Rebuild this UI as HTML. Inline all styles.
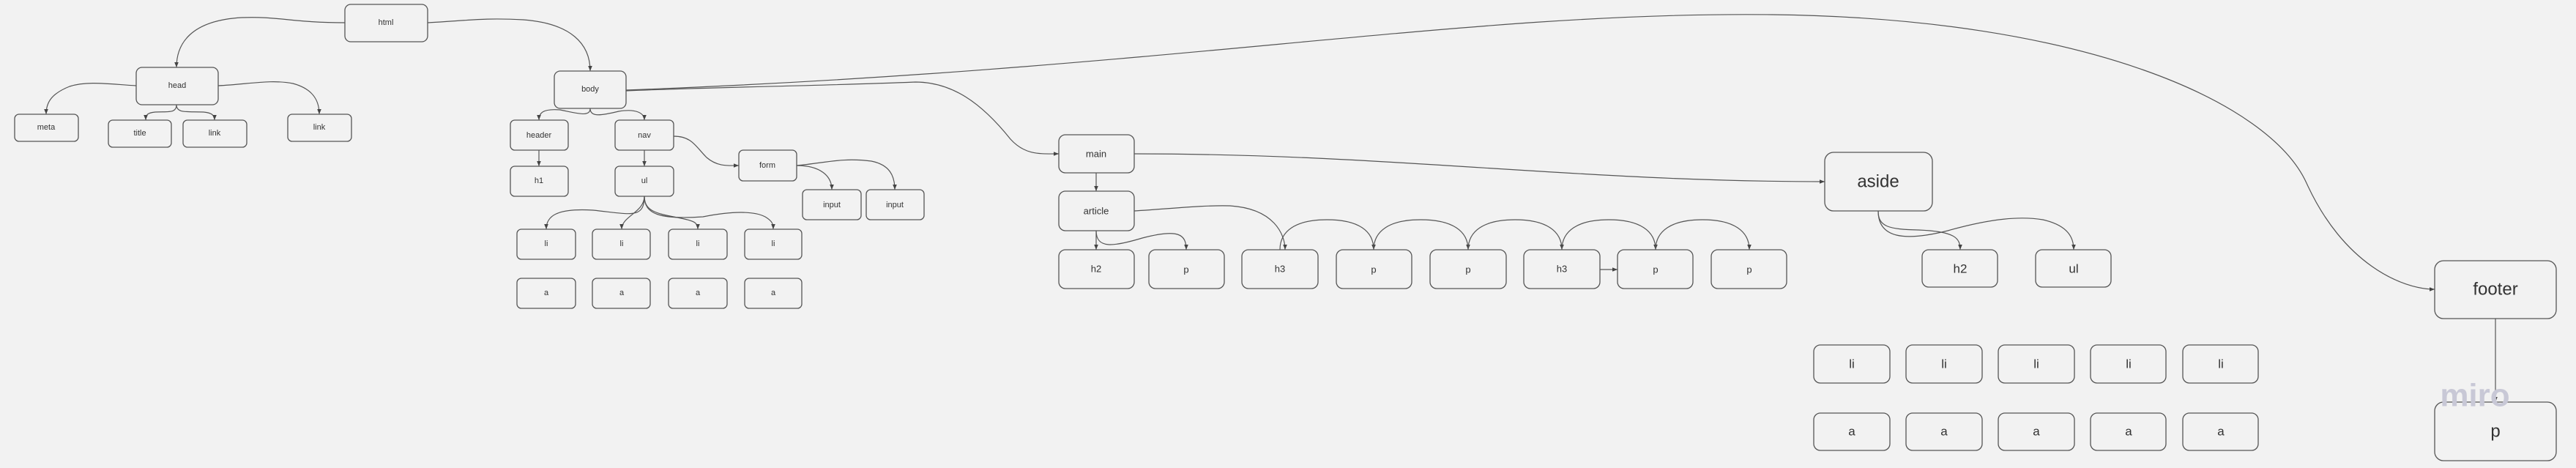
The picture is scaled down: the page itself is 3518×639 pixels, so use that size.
<!DOCTYPE html>
<html><head><meta charset="utf-8"><style>
html,body{margin:0;padding:0;background:#f2f2f2;}
svg{display:block;}
text{font-family:"Liberation Sans",sans-serif;fill:#333;text-anchor:middle;dominant-baseline:central;}
</style></head><body>
<svg width="3518" height="639" viewBox="0 0 3518 639" xmlns="http://www.w3.org/2000/svg">
<defs>
<marker id="ar" viewBox="0 0 10 10" refX="10" refY="5" markerWidth="7" markerHeight="7" orient="auto-start-reverse" markerUnits="userSpaceOnUse"><path d="M0,1 L10,5 L0,9 z" fill="#444"/></marker>
</defs>
<rect width="3518" height="639" fill="#f2f2f2"/>
<g fill="none" stroke="#555" stroke-width="1.2" marker-end="url(#ar)">
<path d="M471,31 C400,31 380,22 330,24 C260,28 241,60 241,92"/>
<path d="M584,31 C640,28 660,24 715,27 C780,32 806,60 806,97"/>
<path d="M186,117 C150,115 120,110 95,118 C70,128 63,140 63,156"/>
<path d="M298,117 C340,115 370,108 400,114 C430,122 436,140 436,156"/>
<path d="M241,143 C241,155 230,152 212,153 C200,154 199,158 199,164"/>
<path d="M241,143 C241,155 255,152 278,153 C290,154 293,158 293,164"/>
<path d="M806,148 C806,160 790,155 765,150 C740,148 736,155 736,164"/>
<path d="M806,148 C806,160 820,158 845,152 C870,148 880,155 880,164"/>
<path d="M736,205 L736,227"/>
<path d="M880,205 L880,227"/>
<path d="M920,186 C945,186 950,200 965,215 C980,228 995,226 1009,226"/>
<path d="M1088,226 C1120,226 1136,240 1136,259"/>
<path d="M1088,226 C1130,222 1150,215 1190,220 C1215,225 1222,240 1222,259"/>
<path d="M880,268 C880,300 860,292 810,287 C760,284 746,295 746,313"/>
<path d="M880,268 C880,290 849,295 849,313"/>
<path d="M880,268 C880,290 900,292 930,298 C950,302 953,305 953,313"/>
<path d="M880,268 C880,292 900,300 960,296 C1000,288 1030,288 1045,296 C1055,302 1056,306 1056,313"/>
<path d="M855,123 C1600,95 2000,15 2420,20 C2850,25 3100,140 3150,250 C3200,360 3280,395 3325,395"/>
<path d="M855,124 C1000,118 1100,118 1250,112 C1300,112 1340,140 1380,190 C1400,212 1420,210 1446,210"/>
<path d="M1497,236 L1497,261"/>
<path d="M1549,210 C1900,210 2150,248 2492,248"/>
<path d="M1497,315 L1497,341"/>
<path d="M1497,315 C1497,340 1520,337 1560,325 C1610,312 1620,320 1620,341"/>
<path d="M1549,288 C1600,285 1640,280 1680,281 C1740,285 1755,320 1755,341"/>
<path d="M1748,341 C1748,315 1770,300 1812,300 C1855,300 1876,315 1876,341"/>
<path d="M1876,341 C1876,315 1898,300 1940,300 C1983,300 2005,315 2005,341"/>
<path d="M2005,341 C2005,315 2027,300 2069,300 C2111,300 2133,315 2133,341"/>
<path d="M2133,341 C2133,315 2155,300 2197,300 C2239,300 2261,315 2261,341"/>
<path d="M2261,341 C2261,315 2283,300 2325,300 C2367,300 2389,315 2389,341"/>
<path d="M2185,368 L2209,368"/>
<path d="M2565,288 C2565,310 2580,313 2620,314 C2670,316 2677,325 2677,341"/>
<path d="M2565,288 C2565,325 2600,330 2660,315 C2720,298 2760,295 2790,300 C2825,308 2832,325 2832,341"/>
<path d="M3408,435 L3408,549"/>
</g>
<g fill="none" stroke="#555" stroke-width="1.3">
<rect x="471" y="6" width="113" height="51" rx="8"/>
<rect x="186" y="92" width="112" height="51" rx="8"/>
<rect x="20" y="156" width="87" height="37" rx="6"/>
<rect x="148" y="164" width="86" height="37" rx="6"/>
<rect x="250" y="164" width="87" height="37" rx="6"/>
<rect x="393" y="156" width="87" height="37" rx="6"/>
<rect x="757" y="97" width="98" height="51" rx="8"/>
<rect x="697" y="164" width="79" height="41" rx="6"/>
<rect x="840" y="164" width="80" height="41" rx="6"/>
<rect x="697" y="227" width="79" height="41" rx="6"/>
<rect x="840" y="227" width="80" height="41" rx="6"/>
<rect x="1009" y="205" width="79" height="42" rx="6"/>
<rect x="1096" y="259" width="80" height="41" rx="6"/>
<rect x="1183" y="259" width="79" height="41" rx="6"/>
<rect x="706" y="313" width="80" height="41" rx="6"/>
<rect x="809" y="313" width="79" height="41" rx="6"/>
<rect x="913" y="313" width="80" height="41" rx="6"/>
<rect x="1017" y="313" width="78" height="41" rx="6"/>
<rect x="706" y="380" width="80" height="41" rx="6"/>
<rect x="809" y="380" width="79" height="41" rx="6"/>
<rect x="913" y="380" width="80" height="41" rx="6"/>
<rect x="1017" y="380" width="78" height="41" rx="6"/>
<rect x="1446" y="184" width="103" height="52" rx="9"/>
<rect x="1446" y="261" width="103" height="54" rx="9"/>
<rect x="1446" y="341" width="103" height="53" rx="9"/>
<rect x="1569" y="341" width="103" height="53" rx="9"/>
<rect x="1696" y="341" width="104" height="53" rx="9"/>
<rect x="1825" y="341" width="103" height="53" rx="9"/>
<rect x="1953" y="341" width="104" height="53" rx="9"/>
<rect x="2081" y="341" width="104" height="53" rx="9"/>
<rect x="2209" y="341" width="103" height="53" rx="9"/>
<rect x="2337" y="341" width="103" height="53" rx="9"/>
<rect x="2492" y="208" width="147" height="80" rx="12"/>
<rect x="2625" y="341" width="103" height="51" rx="9"/>
<rect x="2780" y="341" width="103" height="51" rx="9"/>
<rect x="3325" y="356" width="166" height="79" rx="12"/>
<rect x="3325" y="549" width="166" height="80" rx="12"/>
<rect x="2477" y="471" width="104" height="52" rx="9"/>
<rect x="2603" y="471" width="104" height="52" rx="9"/>
<rect x="2729" y="471" width="104" height="52" rx="9"/>
<rect x="2855" y="471" width="103" height="52" rx="9"/>
<rect x="2981" y="471" width="103" height="52" rx="9"/>
<rect x="2477" y="564" width="104" height="51" rx="9"/>
<rect x="2603" y="564" width="104" height="51" rx="9"/>
<rect x="2729" y="564" width="104" height="51" rx="9"/>
<rect x="2855" y="564" width="103" height="51" rx="9"/>
<rect x="2981" y="564" width="103" height="51" rx="9"/>
</g>
<g font-size="11">
<text x="527" y="31">html</text>
<text x="242" y="117">head</text>
<text x="63" y="174">meta</text>
<text x="191" y="182">title</text>
<text x="293" y="182">link</text>
<text x="436" y="174">link</text>
<text x="806" y="122">body</text>
<text x="736" y="185">header</text>
<text x="880" y="185">nav</text>
<text x="736" y="247">h1</text>
<text x="880" y="247">ul</text>
<text x="1048" y="226">form</text>
<text x="1136" y="280">input</text>
<text x="1222" y="280">input</text>
<text x="746" y="333">li</text><text x="849" y="333">li</text><text x="953" y="333">li</text><text x="1056" y="333">li</text>
<text x="746" y="400">a</text><text x="849" y="400">a</text><text x="953" y="400">a</text><text x="1056" y="400">a</text>
</g>
<g font-size="13">
<text x="1497" y="210">main</text>
<text x="1497" y="288">article</text>
<text x="1497" y="367">h2</text>
<text x="1620" y="368">p</text>
<text x="1748" y="367">h3</text>
<text x="1876" y="368">p</text>
<text x="2005" y="368">p</text>
<text x="2133" y="367">h3</text>
<text x="2261" y="368">p</text>
<text x="2389" y="368">p</text>
</g>
<g font-size="17">
<text x="2677" y="367">h2</text>
<text x="2832" y="367">ul</text>
<text x="2529" y="497">li</text><text x="2655" y="497">li</text><text x="2781" y="497">li</text><text x="2907" y="497">li</text><text x="3033" y="497">li</text>
<text x="2529" y="589">a</text><text x="2655" y="589">a</text><text x="2781" y="589">a</text><text x="2907" y="589">a</text><text x="3033" y="589">a</text>
</g>
<g font-size="24">
<text x="2565" y="248">aside</text>
<text x="3408" y="395">footer</text>
<text x="3408" y="589">p</text>
</g>
<text x="3380" y="540" font-size="44" font-weight="bold" style="fill:#c8c8d6">miro</text>
</svg>
</body></html>
